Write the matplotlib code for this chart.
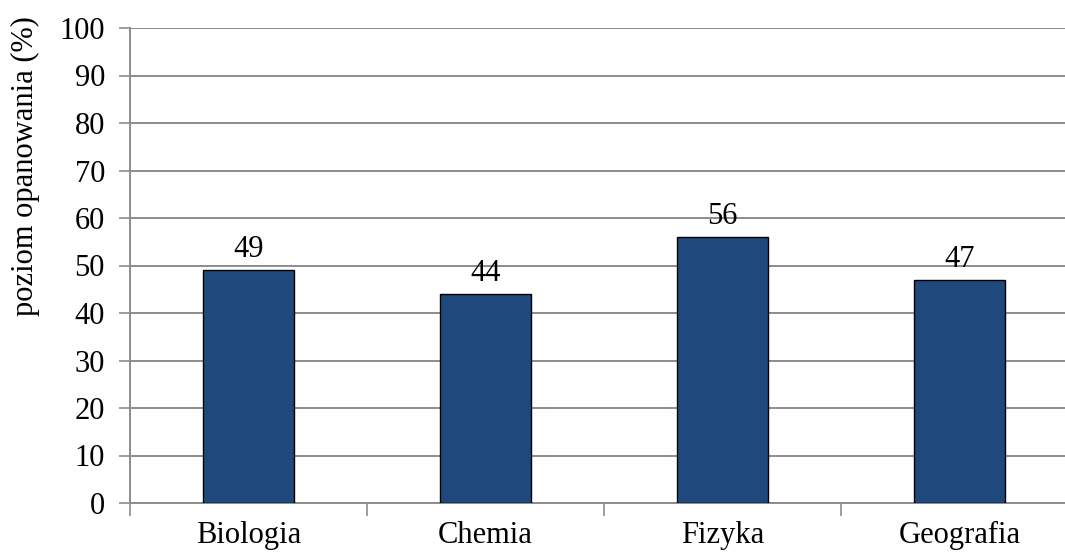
import matplotlib
matplotlib.use("Agg")
import matplotlib.pyplot as plt
import numpy as np

subjects = ["Biologia", "Chemia", "Fizyka", "Geografia"]
scores = [49, 44, 56, 47]
y_ticks = list(range(0, 101, 10))

plt.rcParams['font.family'] = ['Liberation Serif', 'DejaVu Serif']
FS = 22

fig = plt.figure(figsize=(10.65, 5.52), dpi=100)
# axes extends past the right edge, as in the original (it is cropped there)
ax = fig.add_axes([130 / 1065, 49 / 552, 948 / 1065, 475 / 552])

x = np.arange(len(subjects))
bars = ax.bar(x, scores, width=0.385, color='#1F497D', edgecolor='black',
              linewidth=1.0, zorder=3)

for xi, v in zip(x, scores):
    ax.text(xi, v + 1.3, str(v), ha='center', va='bottom', fontsize=FS,
            color='black')

ax.set_xlim(-0.5, len(subjects) - 0.5)
ax.set_ylim(0, 100)
ax.set_yticks(y_ticks)
ax.tick_params(axis='y', labelsize=FS, length=8, width=1.2, color='#8C8C8C',
               pad=10)
ax.yaxis.grid(True, color='#8C8C8C', linewidth=1.4, zorder=0)
ax.set_axisbelow(True)

# category ticks sit on the boundaries, labels in the middle
ax.set_xticks(np.arange(len(subjects) + 1) - 0.5)
ax.set_xticklabels([])
ax.set_xticks(x, minor=True)
ax.set_xticklabels(subjects, minor=True, fontsize=FS)
ax.tick_params(axis='x', which='major', length=9, width=1.2, color='#8C8C8C')
ax.tick_params(axis='x', which='minor', length=0, pad=13)

for s in ['top', 'right']:
    ax.spines[s].set_visible(False)
for s in ['left', 'bottom']:
    ax.spines[s].set_color('#8C8C8C')
    ax.spines[s].set_linewidth(1.4)

# y label sits higher than the axes centre in the original
fig.text(25 / 1065, 1 - 166 / 552, "poziom opanowania (%)", rotation=90,
         ha='center', va='center', fontsize=FS)

fig.savefig("out.png", dpi=100)
